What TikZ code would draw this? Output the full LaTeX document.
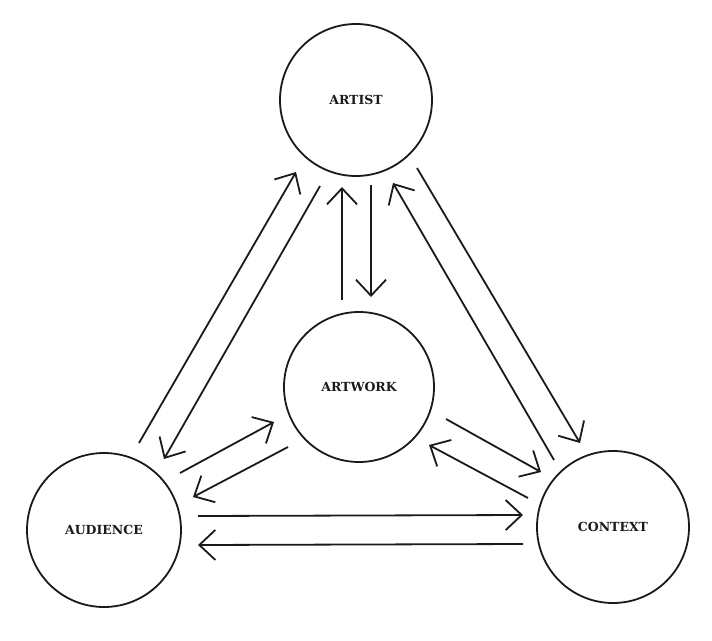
\documentclass[tikz,border=0pt]{standalone}
\usepackage{fontspec}
\setmainfont{DejaVu Serif}
\usetikzlibrary{arrows.meta,calc}
\definecolor{ink}{HTML}{1A1A1A}
\begin{document}
\begin{tikzpicture}[x=1pt,y=-1pt,
  ball/.style={circle,draw=ink,line width=1.8pt,inner sep=0pt,
    font=\fontsize{12.5}{14}\selectfont\bfseries,text=ink},
  flow/.style={draw=ink,line width=1.8pt,
    -{Straight Barb[length=16pt,width=30pt]}}]
\useasboundingbox[fill=white] (0,0) rectangle (712,640);
\node[ball,minimum size=152pt] (art) at (356,100) {\raisebox{-2pt}{ARTIST}};
\node[ball,minimum size=150pt] (work) at (359,387) {ARTWORK};
\node[ball,minimum size=154pt] (aud) at (104,530) {AUDIENCE};
\node[ball,minimum size=152pt] (ctx) at (613,527) {\raisebox{-3pt}{CONTEXT}};
% audience <-> artist
\draw[flow] ($(aud)+(35,-87)$) -- ($(art)+(-60,72)$);
\draw[flow] ($(art)+(-36,86)$) -- ($(aud)+(60,-71)$);
% artwork <-> artist
\draw[flow] ($(work)+(-17,-87)$) -- ($(art)+(-14,87)$);
\draw[flow] ($(art)+(15,85)$) -- ($(work)+(12,-90)$);
% context <-> artist
\draw[flow] ($(ctx)+(-59,-67)$) -- ($(art)+(37,83)$);
\draw[flow] ($(art)+(61,68)$) -- ($(ctx)+(-33,-84)$);
% audience <-> artwork
\draw[flow] ($(aud)+(76,-57)$) -- ($(work)+(-85,35)$);
\draw[flow] ($(work)+(-71,60)$) -- ($(aud)+(89,-33)$);
% artwork <-> context
\draw[flow] ($(work)+(87,32)$) -- ($(ctx)+(-72,-55)$);
\draw[flow] ($(ctx)+(-85,-29)$) -- ($(work)+(70,58)$);
% audience <-> context
\draw[flow] ($(aud)+(94,-14)$) -- ($(ctx)+(-90,-12)$);
\draw[flow] ($(ctx)+(-90,17)$) -- ($(aud)+(94,15)$);
\end{tikzpicture}
\end{document}
